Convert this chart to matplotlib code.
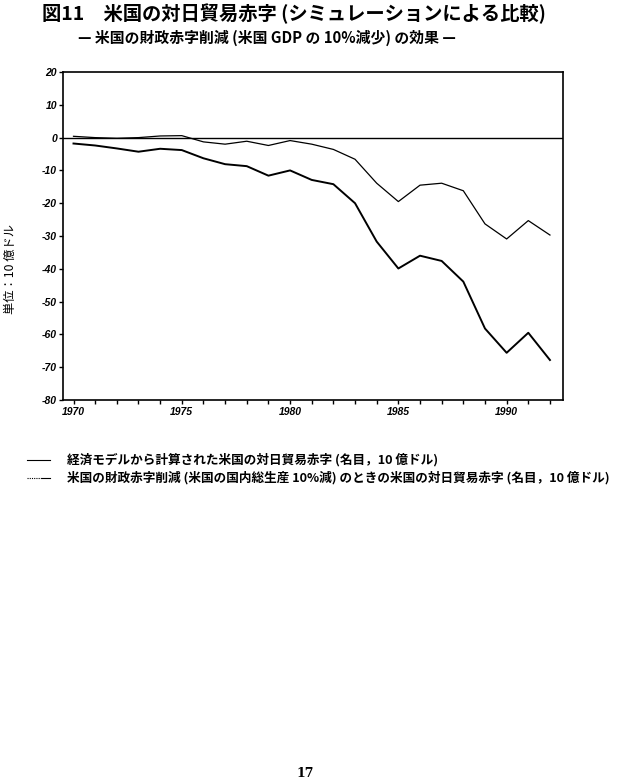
import matplotlib
matplotlib.use("Agg")
import matplotlib.pyplot as plt
from matplotlib.lines import Line2D

plt.rcParams['font.family'] = ['Noto Sans CJK JP', 'DejaVu Sans']

# data (10 億ドル)
years = list(range(1970, 1993))
model_deficit = [-1.8, -2.4, -3.3, -4.3, -3.4, -3.8, -6.3, -8.1, -8.7, -11.6,
                 -10.0, -12.9, -14.2, -20.0, -31.7, -39.9, -36.0, -37.6, -43.9,
                 -58.2, -65.6, -59.5, -67.8]
sim_deficit = [0.4, 0.0, -0.2, 0.0, 0.5, 0.6, -1.3, -2.0, -1.1, -2.4,
               -0.9, -2.0, -3.6, -6.6, -13.9, -19.5, -14.5, -13.9, -16.2,
               -26.3, -30.9, -25.3, -29.7]
yticks = list(range(-80, 21, 10))
xticklabels = [1970, 1975, 1980, 1985, 1990]

title = "図11　米国の対日貿易赤字 (シミュレーションによる比較)"
subtitle = "— 米国の財政赤字削減 (米国 GDP の 10%減少) の効果 —"
ylabel = "単位：10 億ドル"
legend1 = "経済モデルから計算された米国の対日貿易赤字 (名目，10 億ドル)"
legend2 = "米国の財政赤字削減 (米国の国内総生産 10%減) のときの米国の対日貿易赤字 (名目，10 億ドル)"

fig = plt.figure(figsize=(6.23, 7.81), dpi=100)
ax = fig.add_axes([0.1006, 0.4878, 0.803, 0.42])

ax.plot(years, model_deficit, color='black', lw=1.4)
ax.plot(years, sim_deficit, color='black', lw=0.9)
ax.axhline(0, color='black', lw=1.0)

ax.set_xlim(1969.5, 1992.6)
ax.set_ylim(-80, 20)
ax.set_yticks(yticks)
ax.set_xticks(years, minor=True)
ax.set_xticks(xticklabels)

tick_font = dict(family='Liberation Sans', style='italic', weight='bold', size=7.5)
ax.set_yticklabels([str(v) for v in yticks], fontdict=tick_font)
ax.set_xticklabels([str(v) for v in xticklabels], fontdict=tick_font)
ax.tick_params(axis='y', direction='out', length=3, width=1, pad=1)
ax.tick_params(axis='x', which='both', direction='out', length=3, width=1, pad=2)
for s in ax.spines.values():
    s.set_linewidth(1.2)

fig.text(0.067, 0.982, title, fontsize=13.9, fontweight='bold', va='center', ha='left')
fig.text(0.125, 0.951, subtitle, fontsize=10.7, fontweight='bold', va='center', ha='left')
fig.text(0.017, 0.655, ylabel, fontsize=8.8, rotation=90, va='center', ha='center')

# legend below the chart
fig.add_artist(Line2D([0.044, 0.08], [0.411, 0.411], color='black', lw=0.8,
                      transform=fig.transFigure))
fig.add_artist(Line2D([0.044, 0.067], [0.388, 0.388], color='black', lw=0.8,
                      ls=(0, (1, 1)), transform=fig.transFigure))
fig.add_artist(Line2D([0.067, 0.08], [0.388, 0.388], color='black', lw=0.8,
                      transform=fig.transFigure))
fig.text(0.107, 0.411, legend1, fontsize=9.1, fontweight='bold', va='center', ha='left')
fig.text(0.107, 0.388, legend2, fontsize=9.1, fontweight='bold', va='center', ha='left')

fig.text(0.49, 0.010, "17", fontsize=9, family='DejaVu Serif', fontweight='bold',
         va='center', ha='center')

fig.savefig("out.png", dpi=100)
